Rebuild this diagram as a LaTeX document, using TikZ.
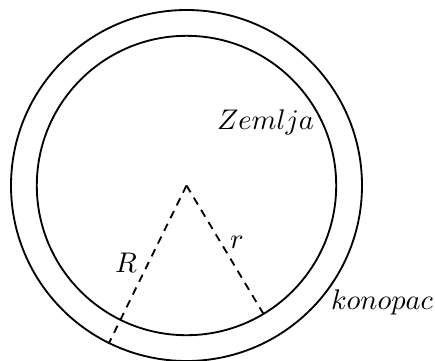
\documentclass[tikz,border=0pt]{standalone}
\usetikzlibrary{calc}
\begin{document}
\begin{tikzpicture}[x=0.352pt,y=-0.352pt,
  ring/.style={line width=0.65pt},
  radiusline/.style={line width=0.65pt,dash pattern=on 2.8pt off 2.2pt},
  lbl/.style={inner sep=0pt}]
\useasboundingbox (0,0) rectangle (435,360);
\coordinate (O) at (186.5,185.5);
\draw[ring] (O) circle[radius=175.5];
\draw[ring] (O) circle[radius=149.7];
\coordinate (Rend) at ($(O)+(-77.5,157.5)$);
\coordinate (rend) at ($(O)+(77,128.4)$);
\draw[radiusline] (O) -- (Rend);
\draw[radiusline] (O) -- (rend);
\node[lbl] (zemlja) at (265.5,122) {$Zemlja$};
\node[lbl] (rl) at (237,242) {$r$};
\node[lbl] (Rl) at (126,263) {$R$};
\node[lbl] (konopac) at (382,302) {$konopac$};
\end{tikzpicture}
\end{document}
